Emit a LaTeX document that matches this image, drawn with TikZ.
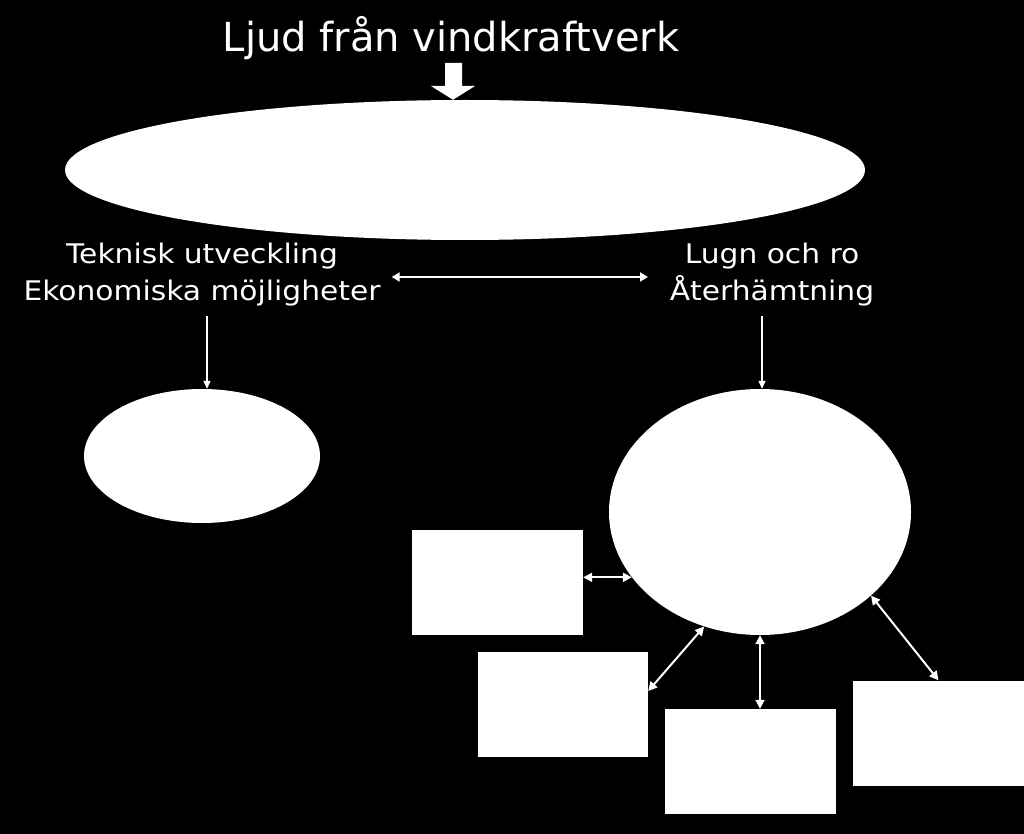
\documentclass[tikz,border=0pt]{standalone}
\usepackage{fontspec}
\setmainfont{DejaVu Sans}
\newfontfamily\widefont{DejaVu Sans}[FakeStretch=1.1]
\usetikzlibrary{shapes.geometric,arrows.meta}
\begin{document}
\begin{tikzpicture}[x=1pt,y=-1pt,
  shape fill/.style={fill=white,draw=none,inner sep=0pt},
  oval/.style={shape fill,ellipse},
  panel/.style={shape fill,rectangle,minimum width=171pt,minimum height=105pt},
  lbl/.style={text=white,font=\widefont\fontsize{27}{37}\selectfont,align=center,inner sep=0pt},
  link/.style={white,line width=2pt,{Triangle[length=9pt,width=9pt]}-{Triangle[length=9pt,width=9pt]}},
  down/.style={white,line width=1.2pt,-{Triangle[length=8pt,width=7pt]}}]
\fill[black] (0,0) rectangle (1024,834);
\useasboundingbox (0,0) rectangle (1024,834);
% title
\node[text=white,font=\fontsize{40}{48}\selectfont,inner sep=0pt,anchor=base] (title) at (451,52) {Ljud från vindkraftverk};
% big ellipse
\node[oval,minimum width=800pt,minimum height=140pt] (top) at (465,170) {};
% thick arrow
\fill[white] (445,63) -- (462,63) -- (462,86) -- (475,86) -- (top.north -| 453,0) -- (431,86) -- (445,86) -- cycle;
% labels
\node[lbl] (left) at (202,275) {Teknisk utveckling\\Ekonomiska möjligheter};
\node[lbl] (right) at (772,275) {Lugn och ro\\Återhämtning};
\draw[white,line width=2.5pt,{Triangle[length=8pt,width=9pt]}-{Triangle[length=8pt,width=9pt]}] (left.east |- 0,277) ++(11,0) coordinate (h1) -- (648,277) coordinate (h2);
% lower ellipses
\node[oval,minimum width=236pt,minimum height=134pt] (lc) at (202,456) {};
\node[oval,minimum width=302pt,minimum height=246pt] (rc) at (760,512) {};
\draw[down] (207,316) -- (lc.north -| 207,0);
\draw[down] (762,316) -- (rc.north -| 762,0);
% boxes
\node[panel] (b1) at (497.5,582.5) {};
\node[panel,minimum width=170pt] (b2) at (563,704.5) {};
\node[panel] (b3) at (750.5,761.5) {};
\node[panel] (b4) at (938.5,733) {};
% links
\draw[link] (rc.207 -| b1.east) -- (rc.207);
\draw[link] (b2.9) -- (rc.244);
\draw[link] (rc.south) -- (rc.south |- b3.north);
\draw[link] (rc.323) -- (b4.north);
\end{tikzpicture}
\end{document}
